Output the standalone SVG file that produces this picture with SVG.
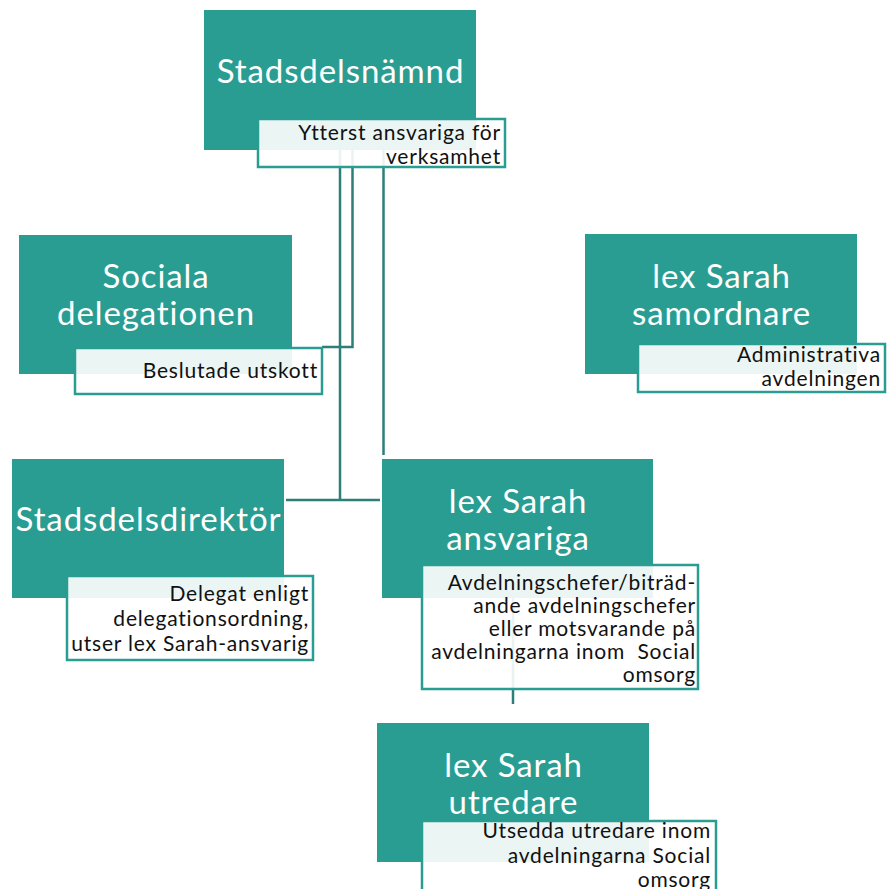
<svg xmlns="http://www.w3.org/2000/svg" width="889" height="889" viewBox="0 0 889 889">
<style>
.box{fill:#2a9d92;}
.lbl{fill:#ffffff;fill-opacity:0.9;stroke:#2a9d92;stroke-width:2.5;}
.t{font-family:Lato,"Open Sans","DejaVu Sans",sans-serif;font-size:33px;letter-spacing:0.9px;fill:#ffffff;text-anchor:middle;}
.s{font-family:Lato,"Open Sans","DejaVu Sans",sans-serif;font-size:21px;letter-spacing:0.8px;fill:#111111;text-anchor:end;}
.c{fill:none;stroke:#2e7f78;stroke-width:2.5;}
</style>
<rect width="889" height="889" fill="#ffffff"/>
<g id="connectors">
<polyline class="c" points="352.5,150 352.5,347 322,347"/>
<polyline class="c" points="340,150 340,500"/>
<line class="c" x1="286" y1="500" x2="380" y2="500"/>
<line class="c" x1="383.5" y1="150" x2="383.5" y2="455"/>
<line class="c" x1="513" y1="598" x2="513" y2="704"/>
</g>
<g id="stadsdelsnamnd">
<rect class="box" x="204" y="10" width="272" height="140"/>
<text class="t" x="340.5" y="83">Stadsdelsnämnd</text>
<rect class="lbl" x="258" y="119" width="247" height="48"/>
<text class="s"><tspan x="501" y="140">Ytterst ansvariga för</tspan><tspan x="501" y="164">verksamhet</tspan></text>
</g>
<g id="sociala-delegationen">
<rect class="box" x="19" y="235" width="273" height="139"/>
<text class="t"><tspan x="156" y="288">Sociala</tspan><tspan x="156" y="325">delegationen</tspan></text>
<rect class="lbl" x="75" y="348" width="247" height="46"/>
<text class="s" x="318" y="378">Beslutade utskott</text>
</g>
<g id="lex-sarah-samordnare">
<rect class="box" x="585" y="234" width="272" height="140"/>
<text class="t"><tspan x="721.5" y="288">lex Sarah</tspan><tspan x="721.5" y="325">samordnare</tspan></text>
<rect class="lbl" x="638" y="344" width="247" height="48"/>
<text class="s"><tspan x="881" y="362">Administrativa</tspan><tspan x="881" y="386">avdelningen</tspan></text>
</g>
<g id="stadsdelsdirektor">
<rect class="box" x="12" y="459" width="272" height="139"/>
<text class="t" x="148.5" y="531">Stadsdelsdirektör</text>
<rect class="lbl" x="67" y="576" width="246" height="84"/>
<text class="s"><tspan x="309" y="601">Delegat enligt</tspan><tspan x="309" y="626">delegationsordning,</tspan><tspan x="309" y="651">utser lex Sarah-ansvarig</tspan></text>
</g>
<g id="lex-sarah-ansvariga">
<rect class="box" x="382" y="459" width="271" height="139"/>
<text class="t"><tspan x="518" y="513">lex Sarah</tspan><tspan x="518" y="550">ansvariga</tspan></text>
<rect class="lbl" x="422" y="565" width="276" height="124"/>
<text class="s"><tspan x="696" y="590">Avdelningschefer/biträd-</tspan><tspan x="696" y="613">ande avdelningschefer</tspan><tspan x="696" y="636">eller motsvarande på</tspan><tspan x="696" y="659">avdelningarna inom&#160; Social</tspan><tspan x="696" y="682">omsorg</tspan></text>
</g>
<g id="lex-sarah-utredare">
<rect class="box" x="377" y="723" width="272" height="139"/>
<text class="t"><tspan x="513.5" y="777">lex Sarah</tspan><tspan x="513.5" y="814">utredare</tspan></text>
<rect class="lbl" x="422" y="821" width="294" height="90"/>
<text class="s"><tspan x="711" y="838">Utsedda utredare inom</tspan><tspan x="711" y="863">avdelningarna Social</tspan><tspan x="711" y="887">omsorg</tspan></text>
</g>
</svg>
